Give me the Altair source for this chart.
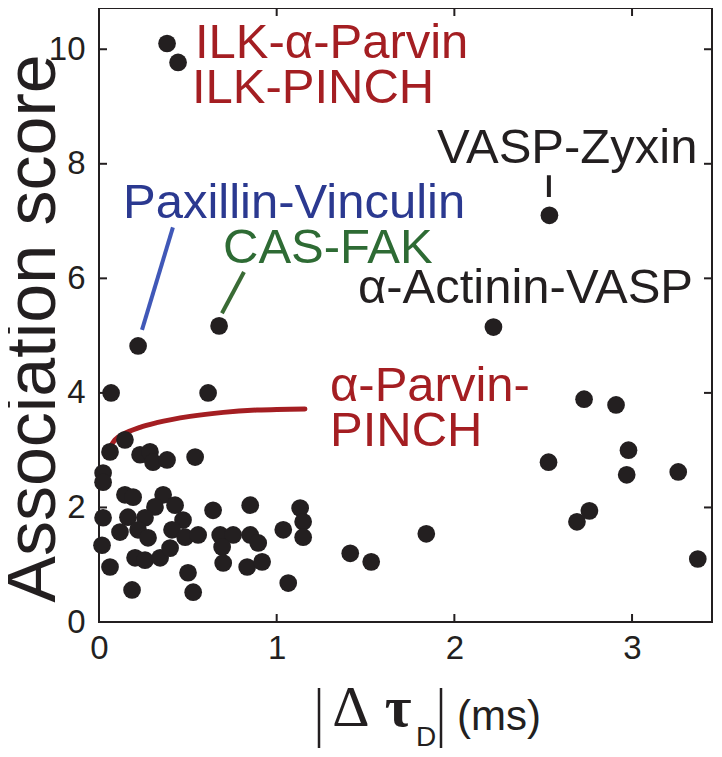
import altair as alt
import pandas as pd

# ---- data ----
x_vals = [0.383, 0.445, 2.535, 0.22, 0.676, 2.22, 0.068, 0.614, 2.73, 2.91,
          2.53, 2.98, 2.97, 3.26, 2.69, 2.76, 3.37, 1.842, 1.414, 1.532,
          0.146, 0.062, 0.231, 0.287, 0.304, 0.383, 0.541, 0.023, 0.023, 0.146,
          0.192, 0.361, 0.428, 0.315, 0.642, 0.851, 1.132, 0.023, 0.163, 0.259,
          0.473, 0.118, 0.220, 0.276, 0.411, 0.485, 0.558, 0.682, 0.755, 0.851,
          0.896, 0.693, 1.037, 1.149, 1.149, 0.017, 0.203, 0.259, 0.344, 0.400,
          0.062, 0.699, 0.834, 0.918, 0.501, 0.530, 0.186, 1.065]
y_vals = [10.10, 9.77, 7.10, 4.82, 5.17, 5.15, 4.00, 4.00, 3.89, 3.79,
          2.79, 3.00, 2.57, 2.62, 1.75, 1.94, 1.10, 1.54, 1.20, 1.05,
          3.18, 2.97, 2.92, 2.97, 2.79, 2.83, 2.88, 2.60, 2.44, 2.22,
          2.18, 2.22, 2.04, 2.01, 1.95, 2.04, 1.99, 1.82, 1.83, 1.82,
          1.78, 1.57, 1.61, 1.47, 1.61, 1.48, 1.52, 1.52, 1.52, 1.52,
          1.38, 1.31, 1.61, 1.75, 1.48, 1.34, 1.12, 1.08, 1.12, 1.29,
          0.96, 1.03, 0.96, 1.05, 0.86, 0.52, 0.56, 0.68]

x_ticks = [0, 1, 2, 3]
y_ticks = [0, 2, 4, 6, 8, 10]

annot_text = ["ILK-α-Parvin", "ILK-PINCH", "VASP-Zyxin", "Paxillin-Vinculin",
              "CAS-FAK", "α-Actinin-VASP", "α-Parvin-", "PINCH"]
annot_x = [0.540, 0.523, 1.902, 0.135, 0.698, 1.457, 1.30, 1.30]
annot_y = [9.84, 9.07, 8.01, 7.05, 6.27, 5.57, 3.86, 3.07]
annot_color = ["#a41e22", "#a41e22", "#231f20", "#2b3990",
               "#2e6b34", "#231f20", "#a41e22", "#a41e22"]

# leader lines
lead_x = [0.416, 0.816, 2.532]
lead_y = [6.89, 6.11, 7.80]
lead_x2 = [0.242, 0.692, 2.532]
lead_y2 = [5.10, 5.39, 7.42]
lead_color = ["#4058b8", "#3a6b35", "#231f20"]

curve_x = [0.058, 0.090, 0.137, 0.231, 0.325, 0.512, 0.700, 0.888, 1.159]
curve_y = [3.03, 3.18, 3.28, 3.40, 3.48, 3.59, 3.66, 3.70, 3.72]

W, H = 613, 614
XDOM = [0, 3.45]
YDOM = [0, 10.72]
INK = "#231f20"
FONT = "Liberation Sans"

xs = alt.Scale(domain=XDOM, nice=False, zero=False)
ys = alt.Scale(domain=YDOM, nice=False, zero=False)

pts = pd.DataFrame({"x": x_vals, "y": y_vals})

points = alt.Chart(pts).mark_circle(size=314, color=INK, opacity=1).encode(
    x=alt.X("x:Q", scale=xs,
            axis=alt.Axis(values=x_ticks, format="d", title="", grid=False,
                          domain=False, ticks=False, tickSize=0,
                          labelFontSize=33, labelFont=FONT, labelColor=INK,
                          labelPadding=10, labelFlush=False)),
    y=alt.Y("y:Q", scale=ys,
            axis=alt.Axis(values=y_ticks, format="d", title="Association score",
                          grid=False, domain=False, ticks=False, tickSize=0,
                          labelFontSize=33, labelFont=FONT, labelColor=INK,
                          labelPadding=14, labelFlush=False,
                          titleFont=FONT, titleFontSize=70,
                          titleFontWeight="normal", titleColor=INK,
                          titleAngle=270, titleX=-45, titleY=320,
                          titleAlign="center", titleBaseline="alphabetic")),
)

# inward tick marks on all four sides
xt = pd.DataFrame({"v": [1, 2, 3]})
yt = pd.DataFrame({"v": [2, 4, 6, 8, 10]})
tick_style = dict(color=INK, strokeWidth=2)
tb = alt.Chart(xt).mark_rule(**tick_style).encode(
    x=alt.X("v:Q", scale=xs), y=alt.value(H), y2=alt.value(H - 8))
tt = alt.Chart(xt).mark_rule(**tick_style).encode(
    x=alt.X("v:Q", scale=xs), y=alt.value(0), y2=alt.value(8))
tl = alt.Chart(yt).mark_rule(**tick_style).encode(
    y=alt.Y("v:Q", scale=ys), x=alt.value(0), x2=alt.value(8))
tr = alt.Chart(yt).mark_rule(**tick_style).encode(
    y=alt.Y("v:Q", scale=ys), x=alt.value(W), x2=alt.value(W - 8))

curve = alt.Chart(pd.DataFrame({"x": curve_x, "y": curve_y})).mark_line(
    color="#a41e22", strokeWidth=5, interpolate="monotone", strokeCap="round").encode(
    x=alt.X("x:Q", scale=xs), y=alt.Y("y:Q", scale=ys))

leads = alt.Chart(pd.DataFrame({"x": lead_x, "y": lead_y, "x2": lead_x2,
                                "y2": lead_y2, "c": lead_color})).mark_rule(
    strokeWidth=4).encode(
    x=alt.X("x:Q", scale=xs), y=alt.Y("y:Q", scale=ys),
    x2="x2:Q", y2="y2:Q", color=alt.Color("c:N", scale=None))

annots = alt.Chart(pd.DataFrame({"x": annot_x, "y": annot_y, "t": annot_text,
                                 "c": annot_color})).mark_text(
    align="left", baseline="alphabetic", font=FONT, fontSize=49).encode(
    x=alt.X("x:Q", scale=xs), y=alt.Y("y:Q", scale=ys), text="t:N",
    color=alt.Color("c:N", scale=None))

# composed x-axis title: |Δ τ_D| (ms)
one = pd.DataFrame({"k": [0]})
bar_l = alt.Chart(one).mark_rule(color=INK, strokeWidth=2.5).encode(
    x=alt.value(220), y=alt.value(680), y2=alt.value(740))
bar_r = alt.Chart(one).mark_rule(color=INK, strokeWidth=2.5).encode(
    x=alt.value(342), y=alt.value(680), y2=alt.value(740))
delta = alt.Chart(one).mark_text(text="Δ", font="Liberation Serif", fontSize=58,
                                 color=INK, align="center", baseline="alphabetic").encode(
    x=alt.value(252), y=alt.value(718))
tau = alt.Chart(one).mark_text(text="τ", font="Liberation Serif", fontSize=58,
                               fontWeight="bold", color=INK, align="center",
                               baseline="alphabetic").encode(
    x=alt.value(299), y=alt.value(718))
sub_d = alt.Chart(one).mark_text(text="D", font=FONT, fontSize=28, color=INK,
                                 align="center", baseline="alphabetic").encode(
    x=alt.value(327), y=alt.value(738))
ms = alt.Chart(one).mark_text(text="(ms)", font=FONT, fontSize=42, color=INK,
                              align="center", baseline="alphabetic").encode(
    x=alt.value(400), y=alt.value(722))

chart = alt.layer(
    curve, leads, points, tb, tt, tl, tr, annots,
    bar_l, bar_r, delta, tau, sub_d, ms
).properties(
    width=W, height=H,
    autosize=alt.AutoSizeParams(type="none"),
    padding={"left": 91, "top": 0, "right": 2, "bottom": 127},
    background="white",
).configure_view(stroke=INK, strokeWidth=2)

chart.save("out.html", embed_options={"renderer": "svg", "actions": False})
